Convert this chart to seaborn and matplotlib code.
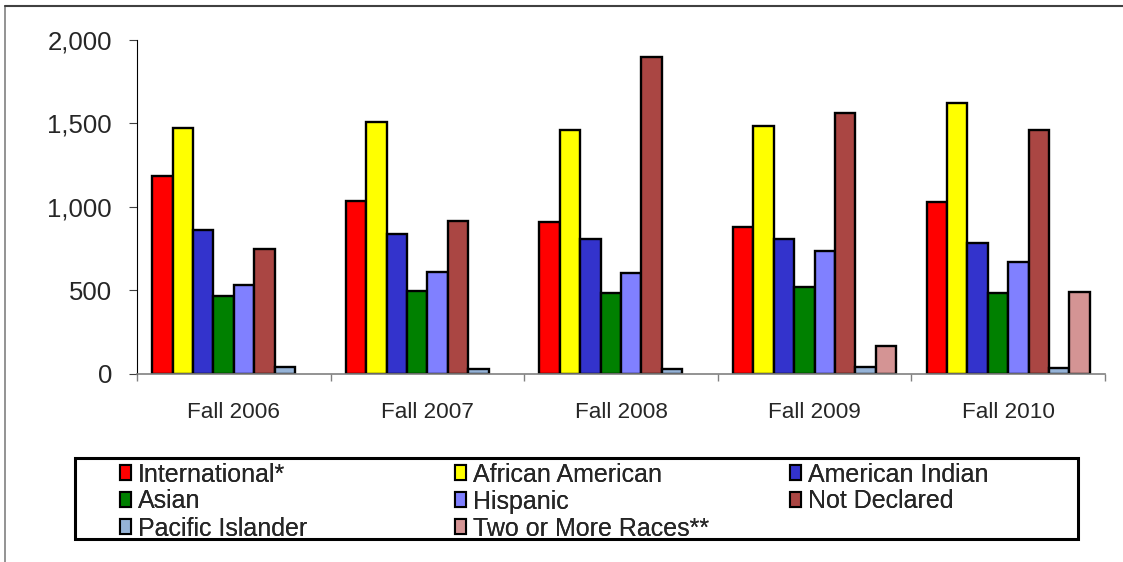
import matplotlib
matplotlib.use("Agg")
import matplotlib.pyplot as plt
import matplotlib.ticker as mticker
from matplotlib.patches import Patch, Rectangle
from matplotlib.lines import Line2D
import numpy as np
import pandas as pd
import seaborn as sns

terms = ["Fall 2006", "Fall 2007", "Fall 2008", "Fall 2009", "Fall 2010"]
groups = ["International*", "African American", "American Indian", "Asian",
          "Hispanic", "Not Declared", "Pacific Islander", "Two or More Races**"]
international = [1183, 1033, 911, 879, 1031]
african_american = [1475, 1509, 1463, 1487, 1624]
american_indian = [861, 837, 805, 805, 785]
asian = [464, 494, 484, 518, 482]
hispanic = [532, 611, 602, 735, 670]
not_declared = [749, 913, 1896, 1561, 1459]
pacific_islander = [38, 28, 28, 40, 34]
two_or_more = [np.nan, np.nan, np.nan, 166, 488]
colors = ["#FF0000", "#FFFF00", "#3333CC", "#008000", "#8080FF", "#AA4643", "#95B3D7", "#D49494"]
yticks = [0, 500, 1000, 1500, 2000]

series = [international, african_american, american_indian, asian, hispanic,
          not_declared, pacific_islander, two_or_more]
rows = []
for g, vals in zip(groups, series):
    for t, v in zip(terms, vals):
        rows.append({"term": t, "group": g, "value": v})
df = pd.DataFrame(rows)

sns.set_theme(style="white")
plt.rcParams["font.family"] = ["Liberation Sans", "DejaVu Sans"]

W, H = 1123, 562
fig = plt.figure(figsize=(W / 100, H / 100), dpi=100)
ax = fig.add_axes([137 / W, 1 - 373.7 / H, (1105 - 137) / W, (373.7 - 40) / H])

sns.barplot(data=df, x="term", y="value", hue="group", order=terms, hue_order=groups,
            palette=colors, saturation=1, width=0.843, edgecolor="black", linewidth=1.7,
            errorbar=None, legend=False, ax=ax)

ax.set_xlim(-0.5, len(terms) - 0.5)
ax.set_ylim(0, 2000)
ax.set_xlabel("")
ax.set_ylabel("")
ax.set_yticks(yticks)
ax.yaxis.set_major_formatter(mticker.StrMethodFormatter("{x:,.0f}"))
ax.tick_params(axis="y", direction="out", length=6, width=0.8, color="#404040",
               labelsize=18.5, pad=12, left=True)

ax.set_xticks(np.arange(-0.5, len(terms)), labels=[""] * (len(terms) + 1))
ax.set_xticks(np.arange(len(terms)), labels=terms, minor=True)
ax.tick_params(axis="x", which="major", direction="out", length=5, width=1, color="#808080", bottom=True)
ax.tick_params(axis="x", which="minor", length=0, labelsize=16.2, pad=20.5)

for s in ["top", "right"]:
    ax.spines[s].set_visible(False)
ax.spines["left"].set_color("#000000")
ax.spines["left"].set_linewidth(0.8)
ax.spines["bottom"].set_color("#808080")
ax.spines["bottom"].set_linewidth(1.2)
ax.grid(False)

# outer frame (left and top edges)
fig.add_artist(Line2D([5 / W, 5 / W], [0, 1 - 6 / H], color="#808080", lw=1.2, transform=fig.transFigure))
fig.add_artist(Line2D([5 / W, 1], [1 - 6 / H, 1 - 6 / H], color="#404040", lw=1.5, transform=fig.transFigure))

# legend frame
fig.add_artist(Rectangle((75 / W, 1 - 539 / H), (1078 - 75) / W, (539 - 458) / H,
                         fill=False, edgecolor="black", lw=2.2, transform=fig.transFigure))

handles = {g: Patch(facecolor=c, edgecolor="black", lw=1.5) for g, c in zip(groups, colors)}
columns = [[groups[0], groups[3], groups[6]],
           [groups[1], groups[4], groups[7]],
           [groups[2], groups[5]]]
col_x = [120, 455, 790]
for cx, col in zip(col_x, columns):
    leg = fig.legend([handles[g] for g in col], col, loc="upper left",
                     bbox_to_anchor=(cx / W, 1 - 462.5 / H), bbox_transform=fig.transFigure,
                     frameon=False, fontsize=18, handlelength=0.42, handleheight=0.55,
                     handletextpad=0.28, labelspacing=0.12, borderpad=0, borderaxespad=0)
    fig.add_artist(leg)

fig.savefig("out.png", dpi=100)
